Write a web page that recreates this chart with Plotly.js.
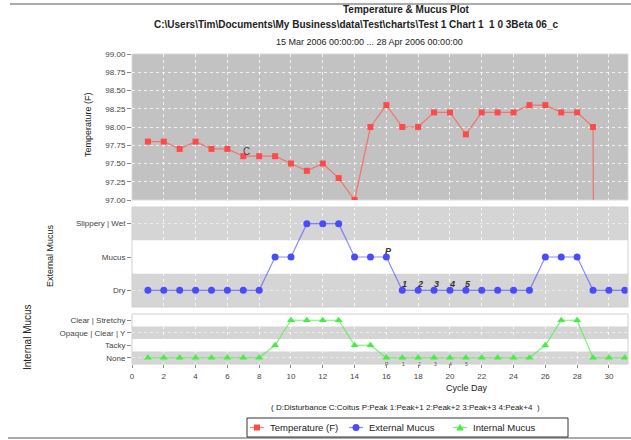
<!DOCTYPE html>
<html><head><meta charset="utf-8">
<script src="https://cdn.plot.ly/plotly-3.0.1.min.js"></script>
<style>html,body{margin:0;padding:0;background:#fff}#chart{width:631px;height:440px}</style>
</head><body><div id="chart"></div>
<script>
var days = [1,2,3,4,5,6,7,8,9,10,11,12,13,14,15,16,17,18,19,20,21,22,23,24,25,26,27,28,29,30,31];
var temperature = [97.8,97.8,97.7,97.8,97.7,97.7,97.6,97.6,97.6,97.5,97.4,97.5,97.3,97.0,98.0,98.3,98.0,98.0,98.2,98.2,97.9,98.2,98.2,98.2,98.3,98.3,98.2,98.2,98.0,0,0];
var externalMucus = [0,0,0,0,0,0,0,0,1,1,2,2,2,1,1,1,0,0,0,0,0,0,0,0,0,1,1,1,0,0,0];
var internalMucus = [0,0,0,0,0,0,0,0,1,3,3,3,3,1,1,0,0,0,0,0,0,0,0,0,0,1,3,3,0,0,0];
var extLabels = ["Dry","Mucus","Slippery | Wet"];
var intLabels = ["None","Tacky","Opaque | Clear | Y","Clear | Stretchy"];
var tempTicks = [97.0,97.25,97.5,97.75,98.0,98.25,98.5,98.75,99.0];
var xTicks = [0,2,4,6,8,10,12,14,16,18,20,22,24,26,28,30];
var tempNoteDays = [7];
var tempNoteText = ["C"];
var mucusNoteDays = [16,17,18,19,20,21];
var mucusNoteText = ["P","1","2","3","4","5"];
var seriesNames = ["Temperature (F)","External Mucus","Internal Mucus"];

var W = 631, H = 440;
function px(x){return x/W;}
function py(y){return 1 - y/H;}

var FONT = "Liberation Sans, Arial, sans-serif";
var RED = '#ff4a4a', BLUE = '#4a4aff', GREEN = '#44ee44';
var REDL = 'rgba(255,90,90,0.75)', BLUEL = 'rgba(90,90,255,0.7)', GREENL = 'rgba(80,240,80,0.8)';
var traces = [
 {x: days, y: temperature, type:'scatter', mode:'lines+markers', name:seriesNames[0], xaxis:'x', yaxis:'y',
  line:{color:REDL, width:1.2}, marker:{symbol:'square', size:6, color:RED}},
 {x: days, y: externalMucus, type:'scatter', mode:'lines+markers', name:seriesNames[1], xaxis:'x', yaxis:'y2',
  line:{color:BLUEL, width:1.2}, marker:{symbol:'circle', size:7, color:BLUE}},
 {x: days, y: internalMucus, type:'scatter', mode:'lines+markers', name:seriesNames[2], xaxis:'x', yaxis:'y3',
  line:{color:GREENL, width:1.2}, marker:{symbol:'triangle-up', size:7, color:GREEN}}
];

var gridc = 'rgba(255,255,255,0.75)';
var tickf = {family: FONT, size: 8, color:'#444'};
var shapes = [
 {type:'rect', xref:'x domain', yref:'y domain', x0:0, x1:1, y0:0, y1:1, fillcolor:'#c2c2c2', line:{color:'#d8d8d8', width:1}, layer:'below'},
 {type:'rect', xref:'x domain', yref:'y2', x0:0, x1:1, y0:-0.5, y1:0.5, fillcolor:'#d5d5d5', line:{width:0}, layer:'below'},
 {type:'rect', xref:'x domain', yref:'y2', x0:0, x1:1, y0:1.5, y1:2.5, fillcolor:'#d5d5d5', line:{width:0}, layer:'below'},
 {type:'rect', xref:'x domain', yref:'y3', x0:0, x1:1, y0:-0.5, y1:0.5, fillcolor:'#d5d5d5', line:{width:0}, layer:'below'},
 {type:'rect', xref:'x domain', yref:'y3', x0:0, x1:1, y0:1.5, y1:2.5, fillcolor:'#d5d5d5', line:{width:0}, layer:'below'},
 {type:'rect', xref:'x domain', yref:'y2 domain', x0:0, x1:1, y0:0, y1:1, line:{color:'#d0d0d0', width:1}},
 {type:'rect', xref:'x domain', yref:'y3 domain', x0:0, x1:1, y0:0, y1:1, line:{color:'#d0d0d0', width:1}},
 {type:'line', xref:'paper', yref:'paper', x0:px(10), x1:1, y0:py(4), y1:py(4), line:{color:'#aaaaaa', width:2}},
 {type:'line', xref:'paper', yref:'paper', x0:px(8), x1:1, y0:py(438), y1:py(438), line:{color:'#aaaaaa', width:2}},
 {type:'rect', xref:'paper', yref:'paper', x0:px(247), x1:px(568), y0:py(437), y1:py(418), line:{color:'#333', width:1}, fillcolor:'#fff'}
];

var ann = [
 {text:'<b>Temperature & Mucus Plot</b>', x:px(406), y:py(10), font:{size:10}},
 {text:'<b>C:\\Users\\Tim\\Documents\\My Business\\data\\Test\\charts\\Test 1 Chart 1  1 0 3Beta 06_c</b>', x:px(152), y:py(25), xanchor:'left', font:{size:10}},
 {text:'15 Mar 2006 00:00:00 ... 28 Apr 2006 00:00:00', x:px(369), y:py(42), font:{size:9}},
 {text:'Temperature (F)', x:px(88), y:py(125), textangle:-90, font:{size:9}},
 {text:'External Mucus', x:px(50), y:py(256), textangle:-90, font:{size:9}},
 {text:'Internal Mucus', x:px(27), y:py(337), textangle:-90, font:{size:10}},
 {text:'Cycle Day', x:px(467), y:py(388), font:{size:9}},
 {text:'( D:Disturbance C:Coitus P:Peak 1:Peak+1 2:Peak+2 3:Peak+3 4:Peak+4  )', x:px(405), y:py(407), font:{size:8}}
];

var legItems = [
 {lx0:250, lx1:264, text:268, color:REDL, mcol:RED, sym:'square'},
 {lx0:349, lx1:363, text:367, color:BLUEL, mcol:BLUE, sym:'circle'},
 {lx0:453, lx1:467, text:471, color:GREENL, mcol:GREEN, sym:'triangle'}
];
var ly = 427.5;
legItems.forEach(function(it, i){
 shapes.push({type:'line', xref:'paper', yref:'paper', x0:px(it.lx0), x1:px(it.lx1), y0:py(ly), y1:py(ly), line:{color:it.color, width:1.2}});
 var cx = (it.lx0+it.lx1)/2;
 if (it.sym==='square') shapes.push({type:'rect', xref:'paper', yref:'paper', x0:px(cx-3), x1:px(cx+3), y0:py(ly+3), y1:py(ly-3), fillcolor:it.mcol, line:{width:0}});
 if (it.sym==='circle') shapes.push({type:'circle', xref:'paper', yref:'paper', x0:px(cx-3.5), x1:px(cx+3.5), y0:py(ly+3.5), y1:py(ly-3.5), fillcolor:it.mcol, line:{width:0}});
 if (it.sym==='triangle') shapes.push({type:'path', xref:'paper', yref:'paper',
   path:'M '+px(cx-3.8)+' '+py(ly+3)+' L '+px(cx+3.8)+' '+py(ly+3)+' L '+px(cx)+' '+py(ly-3.8)+' Z', fillcolor:it.mcol, line:{width:0}});
 ann.push({text:seriesNames[i], x:px(it.text), y:py(ly), xanchor:'left', font:{size:9.5}});
});

ann.forEach(function(a){a.xref='paper'; a.yref='paper'; a.showarrow=false; if(!a.xanchor) a.xanchor='center'; a.yanchor='middle'; a.font.family=FONT; a.font.color='#222';});

tempNoteDays.forEach(function(d,i){
 ann.push({xref:'x', yref:'y', x:d, y:temperature[d-1], text:tempNoteText[i], showarrow:false, xshift:3, yshift:5, font:{family:FONT, size:10, color:'#444'}});
});
mucusNoteDays.forEach(function(d,i){
 ann.push({xref:'x', yref:'y2', x:d, y:externalMucus[d-1], text:'<i><b>'+mucusNoteText[i]+'</b></i>', showarrow:false, xshift:2, yshift:6, font:{family:FONT, size:9, color:'#333'}});
 ann.push({xref:'x', yref:'y3', x:d, y:internalMucus[d-1], text:mucusNoteText[i], showarrow:false, xshift:1, yshift:-6, font:{family:FONT, size:5, color:'#555'}});
});

var layout = {
 width:W, height:H, margin:{l:0,r:0,t:0,b:0}, paper_bgcolor:'#fff', plot_bgcolor:'rgba(0,0,0,0)',
 font:{family:FONT, size:9, color:'#222'},
 showlegend:false,
 xaxis:{domain:[px(132), px(628)], anchor:'y3', range:[0,31.2], tickvals:xTicks, ticks:'outside', ticklen:3, tickcolor:'#888',
   ticklabelstandoff:1, tickfont:tickf, showgrid:true, gridcolor:gridc, griddash:'dot', zeroline:false, showline:false},
 yaxis:{domain:[py(200), py(54)], range:[97,99], tickvals:tempTicks, tickformat:'.2f', ticks:'outside', ticklen:4, tickcolor:'#888',
   tickfont:tickf, showgrid:true, gridcolor:gridc, griddash:'dot', zeroline:false},
 yaxis2:{domain:[py(307), py(207)], range:[-0.5,2.5], tickvals:[0,1,2], ticktext:extLabels, ticks:'outside', ticklen:4, tickcolor:'#888',
   tickfont:tickf, showgrid:true, gridcolor:'rgba(255,255,255,0.5)', griddash:'dot', zeroline:false},
 yaxis3:{domain:[py(364), py(314)], range:[-0.5,3.5], tickvals:[0,1,2,3], ticktext:intLabels, ticks:'outside', ticklen:4, tickcolor:'#888',
   tickfont:tickf, showgrid:true, gridcolor:'rgba(255,255,255,0.5)', griddash:'dot', zeroline:false},
 shapes:shapes, annotations:ann
};
Plotly.newPlot('chart', traces, layout, {displayModeBar:false, staticPlot:true});
</script></body></html>
